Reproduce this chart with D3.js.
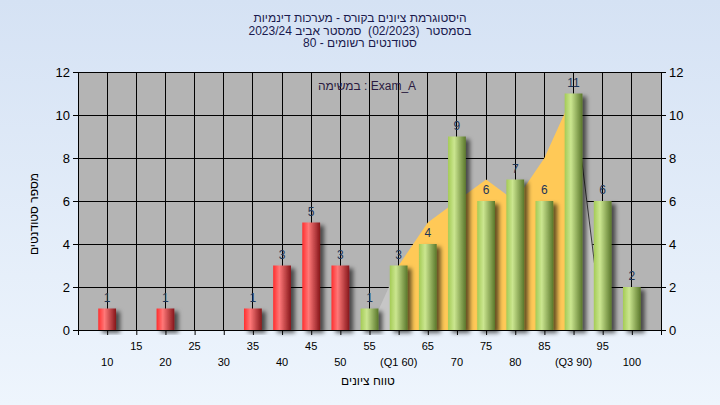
<!DOCTYPE html>
<html><head><meta charset="utf-8">
<script src="https://cdn.jsdelivr.net/npm/d3@7"></script>
<style>html,body{margin:0;padding:0;}svg{display:block;}text{font-family:"Liberation Sans",Arial,"DejaVu Sans",sans-serif;white-space:pre;}</style>
</head><body>
<svg id="c" width="720" height="405"></svg>
<script>
const titleLines = ["היסטוגרמת ציונים בקורס - מערכות דינמיות", "בסמסטר  (02/2023)  סמסטר אביב 2023/24", "סטודנטים רשומים - 80"];
const assignmentLabel = "במשימה : Exam_A";
const yTitle = "מספר סטודנטים";
const xTitle = "טווח ציונים";
const categories = [10,15,20,25,30,35,40,45,50,55,60,65,70,75,80,85,90,95,100];
const counts =     [1, 0, 1, 0, 0, 1, 3, 5, 3, 1, 3, 4, 9, 6, 7, 6, 11,6, 2];
const passGrade = 55;
const areaX = [55,60,65,70,75,80,85,90,95];
const areaY = [0, 3, 5, 6, 7, 6, 8, 11,0];
const q1 = 60, q3 = 90;
const tickLabelOverrides = {60: "(Q1 60)", 90: "(Q3 90)"};
const yTicks = [0,2,4,6,8,10,12];

const svg = d3.select("#c");
const defs = svg.append("defs");
const bg = defs.append("linearGradient").attr("id","bg").attr("x1",0).attr("y1",0).attr("x2",0).attr("y2",1);
bg.append("stop").attr("offset","0%").attr("stop-color","#d5e2f4");
bg.append("stop").attr("offset","100%").attr("stop-color","#eef5fd");
function barGrad(id, c0, c1, c2){
  const g = defs.append("linearGradient").attr("id",id).attr("x1",0).attr("y1",0).attr("x2",1).attr("y2",0);
  g.append("stop").attr("offset","0%").attr("stop-color",c0);
  g.append("stop").attr("offset","35%").attr("stop-color",c1);
  g.append("stop").attr("offset","100%").attr("stop-color",c2);
}
barGrad("red","#ff2e2e","#ff7878","#86161a");
barGrad("green","#a4cb55","#cbe690","#5a772b");
const f = defs.append("filter").attr("id","sh").attr("x","-20%").attr("y","-20%").attr("width","170%").attr("height","140%");
f.append("feDropShadow").attr("dx",4).attr("dy",3).attr("stdDeviation",2).attr("flood-color","#000").attr("flood-opacity",0.6);

svg.append("rect").attr("width",720).attr("height",405).attr("fill","url(#bg)");

const x = d3.scaleLinear().domain([5,105]).range([78,661]);
const y = d3.scaleLinear().domain([0,12]).range([330,72]);
const step = x(10)-x(5);
const bw = step*0.61;

svg.append("rect").attr("x",x(5)).attr("y",y(12)).attr("width",x(105)-x(5)).attr("height",y(0)-y(12)).attr("fill","#b4b4b4");

const grid = svg.append("g").attr("stroke","#000").attr("stroke-width",1).attr("shape-rendering","crispEdges");
grid.selectAll(".gx").data(categories).join("line").attr("x1",d=>x(d)).attr("x2",d=>x(d)).attr("y1",y(0)).attr("y2",y(12));
grid.selectAll(".gy").data(yTicks).join("line").attr("class","gy").attr("y1",d=>y(d)).attr("y2",d=>y(d)).attr("x1",x(5)).attr("x2",x(105));

const pts = areaX.map((d,i)=>[d,areaY[i]]);
const area = d3.area().x(d=>x(d[0])).y0(y(0)).y1(d=>y(d[1]));
const leftSeg = pts.filter(d=>d[0]<=q1);
const midSeg = pts.filter(d=>d[0]>=q1 && d[0]<=q3);
const rightSeg = pts.filter(d=>d[0]>=q3);
svg.append("path").attr("d",area(leftSeg)).attr("fill","#c6c6c6");
svg.append("path").attr("d",area(rightSeg)).attr("fill","#c6c6c6");
svg.append("path").attr("d",area(midSeg)).attr("fill","#ffc957");
svg.append("path").attr("d",d3.line().x(d=>x(d[0])).y(d=>y(d[1]))(rightSeg)).attr("fill","none").attr("stroke","#3a3a3a").attr("stroke-width",1);

const data = categories.map((c,i)=>({c, v:counts[i]})).filter(d=>d.v>0);
svg.append("g").selectAll("rect").data(data).join("rect")
  .attr("x",d=>x(d.c)-bw/2).attr("width",bw)
  .attr("y",d=>y(d.v)).attr("height",d=>y(0)-y(d.v))
  .attr("fill",d=>d.c<passGrade?"url(#red)":"url(#green)")
  .attr("filter","url(#sh)");

svg.append("g").selectAll("text").data(data).join("text")
  .attr("x",d=>x(d.c)).attr("y",d=>y(d.v)-7).attr("text-anchor","middle")
  .attr("font-size",12).attr("fill","#1d3557").text(d=>d.v);

const axL = d3.axisLeft(y).tickValues(yTicks).tickSize(5).tickPadding(3);
const gL = svg.append("g").attr("transform",`translate(${x(5)},0)`).call(axL);
const axR = d3.axisRight(y).tickValues(yTicks).tickSize(5).tickPadding(3);
const gR = svg.append("g").attr("transform",`translate(${x(105)},0)`).call(axR);
[gL,gR].forEach(g=>{g.select(".domain").attr("stroke","#000");g.selectAll("line").attr("stroke","#000");g.selectAll("text").attr("font-size",13).attr("fill","#000").attr("font-family","Liberation Sans,Arial,sans-serif");});
svg.append("line").attr("x1",x(5)).attr("x2",x(105)).attr("y1",y(12)+0.5).attr("y2",y(12)+0.5).attr("stroke","#000");

const axB = d3.axisBottom(x).tickValues([5].concat(categories).concat([105])).tickSize(5).tickFormat("");
const gB = svg.append("g").attr("transform",`translate(0,${y(0)})`).call(axB);
gB.select(".domain").attr("stroke","#000");
gB.selectAll("line").attr("stroke","#000");
const xl = svg.append("g");
xl.selectAll("text").data(categories).join("text")
  .attr("x",d=>x(d)).attr("y",(d,i)=> i%2===0 ? 366 : 350)
  .attr("text-anchor","middle").attr("font-size",11).attr("fill","#000")
  .text(d=>tickLabelOverrides[d]||d);

svg.append("g").selectAll("text").data(titleLines).join("text")
  .attr("x",360).attr("y",(d,i)=>22+i*12.5).attr("text-anchor","middle")
  .attr("font-size",12).attr("fill","#1a1a4d").text(d=>d);
svg.append("text").attr("x",367).attr("y",90).attr("text-anchor","middle").attr("font-size",12).attr("fill","#2a1a40").text(assignmentLabel);
svg.append("text").attr("transform","translate(38,214) rotate(-90)").attr("text-anchor","middle").attr("font-size",12).attr("fill","#000").text(yTitle);
svg.append("text").attr("x",368).attr("y",385).attr("text-anchor","middle").attr("font-size",12).attr("fill","#000").text(xTitle);
</script>
</body></html>
